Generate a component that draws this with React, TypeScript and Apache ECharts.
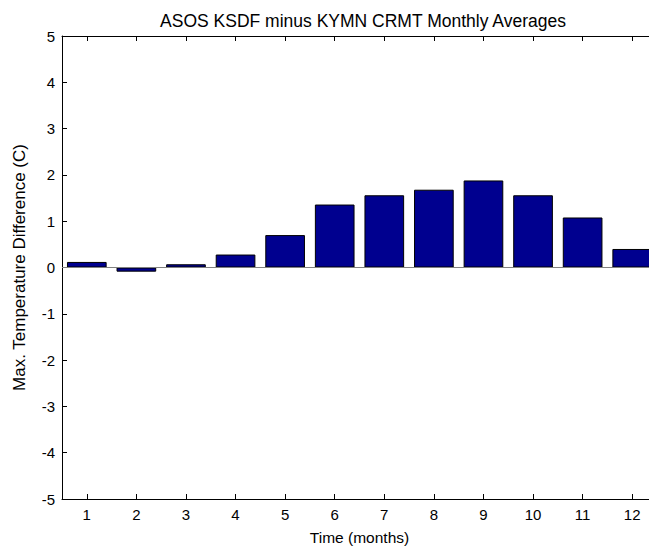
import React, { useEffect, useRef } from "react";
import * as echarts from "echarts";

const months = ["1", "2", "3", "4", "5", "6", "7", "8", "9", "10", "11", "12"];
const maxTempDiff = [0.12, -0.09, 0.07, 0.28, 0.7, 1.36, 1.56, 1.68, 1.88, 1.56, 1.08, 0.4];
const titleText = "ASOS KSDF minus KYMN CRMT Monthly Averages";
const xLabel = "Time (months)";
const yLabel = "Max. Temperature Difference (C)";

export default function App() {
  const ref = useRef<HTMLDivElement>(null);
  useEffect(() => {
    if (!ref.current) return;
    const chart = echarts.init(ref.current, undefined, { renderer: "svg" });
    const font = "Arial, 'Liberation Sans', sans-serif";
    const axisLine = { show: true, onZero: false, lineStyle: { color: "#000", width: 1 } };
    const tick = { show: true, inside: true, length: 5, lineStyle: { color: "#000" } };
    chart.setOption({
      animation: false,
      backgroundColor: "#fff",
      title: {
        text: titleText,
        left: 358,
        textAlign: "center",
        top: 7,
        textStyle: { fontFamily: font, fontSize: 17.5, fontWeight: "normal", color: "#000" },
      },
      grid: {
        left: 62,
        top: 36,
        width: 595,
        bottom: 51,
        containLabel: false,
        outerBoundsMode: "none",
      },
      xAxis: [
        {
          type: "category",
          data: months,
          position: "bottom",
          boundaryGap: true,
          axisLine,
          axisTick: { ...tick, alignWithLabel: true },
          axisLabel: { color: "#000", fontFamily: font, fontSize: 15, margin: 8 },
          name: xLabel,
          nameLocation: "middle",
          nameGap: 30,
          nameTextStyle: { color: "#000", fontFamily: font, fontSize: 15.5 },
          splitLine: { show: false },
        },
        {
          type: "category",
          data: months,
          position: "top",
          boundaryGap: true,
          axisLine,
          axisTick: { ...tick, alignWithLabel: true },
          axisLabel: { show: false },
          splitLine: { show: false },
        },
      ],
      yAxis: [
        {
          type: "value",
          min: -5,
          max: 5,
          interval: 1,
          position: "left",
          axisLine,
          axisTick: tick,
          axisLabel: { color: "#000", fontFamily: font, fontSize: 15, margin: 7 },
          splitLine: { show: false },
          name: yLabel,
          nameLocation: "middle",
          nameGap: 34,
          nameRotate: 90,
          nameTextStyle: { color: "#000", fontFamily: font, fontSize: 17 },
        },
        {
          type: "value",
          min: -5,
          max: 5,
          interval: 1,
          position: "right",
          axisLine,
          axisTick: tick,
          axisLabel: { show: false },
          splitLine: { show: false },
        },
      ],
      series: [
        {
          type: "bar",
          data: maxTempDiff,
          xAxisIndex: 0,
          yAxisIndex: 0,
          barCategoryGap: "20%",
          itemStyle: { color: "#00008F", borderColor: "#000", borderWidth: 1 },
          markLine: {
            silent: true,
            symbol: "none",
            label: { show: false },
            lineStyle: { color: "#808080", type: "solid", width: 1 },
            data: [{ yAxis: 0 }],
          },
        },
      ],
    });
    return () => chart.dispose();
  }, []);
  return (
    <div
      ref={ref}
      style={{ position: "fixed", left: 0, top: 0, width: 649, height: 550, background: "#fff" }}
    />
  );
}
